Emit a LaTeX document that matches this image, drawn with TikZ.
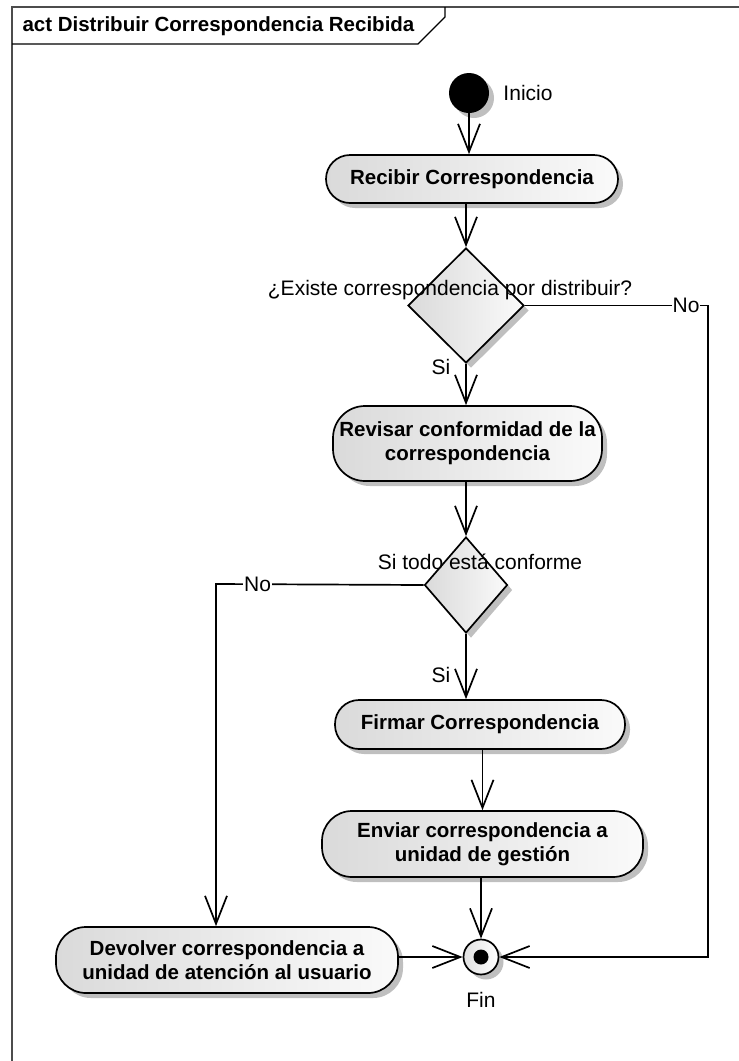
\documentclass[tikz,border=0pt]{standalone}
\usepackage{fontspec}
\setmainfont{Liberation Sans}
\usetikzlibrary{arrows.meta,shapes.geometric,shadows,calc}
\begin{document}
\begin{tikzpicture}[x=1pt,y=-1pt,
  every node/.style={font=\fontsize{21}{24}\selectfont},
  actfill/.style={left color={rgb,255:red,218;green,218;blue,218}, right color={rgb,255:red,250;green,250;blue,250}, draw=black, line width=1.7pt,
    drop shadow={shadow xshift=5pt, shadow yshift=-5pt, fill=black!25, opacity=1}},
  act/.style={actfill, rectangle, rounded corners=24pt, inner sep=0pt, align=center, font=\fontsize{20.5}{24}\selectfont\bfseries},
  dec/.style={actfill, diamond, inner sep=0pt, aspect=1},
  flow/.style={draw=black, line width=1.7pt, -{Straight Barb[length=28pt,width=22pt]}},
  lbl/.style={inner sep=1pt}
]
\useasboundingbox (0,0) rectangle (739,1061);
% frame
\draw[black!70, line width=2pt] (12,1061) -- (12,7) -- (739,7);
\draw[line width=1.1pt] (12,44) -- (418,44) -- (445,17) -- (445,7);
\node[anchor=west, font=\fontsize{20.5}{24}\selectfont\bfseries] (title) at (19,26) {act Distribuir Correspondencia Recibida};

% nodes
\node[circle, fill=black, minimum size=40pt, inner sep=0pt,
  drop shadow={shadow xshift=5pt, shadow yshift=-5pt, fill=black!25, opacity=1}] (start) at (469,93) {};
\node[act, minimum width=292pt, minimum height=48pt] (recibir) at (472,179) {Recibir Correspondencia};
\node[dec, minimum width=116pt, minimum height=115pt] (d1) at (466,305.5) {};
\node[act, rounded corners=32pt, minimum width=269pt, minimum height=75pt] (revisar) at (467.5,443.5) {Revisar conformidad de la\\correspondencia};
\node[dec, minimum width=83pt, minimum height=96pt] (d2) at (466,585) {};
\node[act, minimum width=290pt, minimum height=49pt] (firmar) at (480,724.5) {Firmar Correspondencia};
\node[act, rounded corners=30pt, minimum width=321pt, minimum height=66pt] (enviar) at (482.5,844) {Enviar correspondencia a\\unidad de gestión};
\node[act, rounded corners=30pt, minimum width=342pt, minimum height=66pt] (devolver) at (227,960) {Devolver correspondencia a\\unidad de atención al usuario};
\node[actfill, circle, left color=black!12, right color=white, minimum size=35pt, inner sep=0pt] (fin) at (481,957) {};
\node[circle, fill=black, minimum size=15pt, inner sep=0pt] (findot) at (fin) {};

% labels
\node (inicio) at (528,93) {Inicio};
\node (q1) at (450,290) {¿Existe correspondencia por distribuir?};
\node (si1) at (441,367) {Si};
\node (q2) at (480,562) {Si todo está conforme};
\node (si2) at (441,675) {Si};
\node (finlbl) at (481,1000) {Fin};

% flows
\coordinate (c1) at (216,584);
\coordinate (c2) at (708,306);
\draw[flow] (start) -- (recibir.north -| start);
\draw[flow] (d1.north |- recibir.south) -- (d1.north);
\draw[flow] (d1.south) -- (d1.south |- revisar.north);
\draw[flow] (d2.north |- revisar.south) -- (d2.north);
\draw[flow] (d2.south) -- (d2.south |- firmar.north);
\draw[flow] (enviar.north |- firmar.south) -- (enviar.north);
\draw[flow] (fin.north |- enviar.south) -- (fin.north);
\draw[flow] (d2.west) -- node[lbl, fill=white, pos=0.8] (no2) {No} (c1) -- (c1 |- devolver.north);
\draw[flow] (devolver.east |- fin) -- (fin.west);
\draw[flow] (d1.east) -- node[lbl, fill=white, pos=0.88] (no1) {No} (d1.east -| c2) -- (c2 |- fin) -- (fin.east);
\end{tikzpicture}
\end{document}
